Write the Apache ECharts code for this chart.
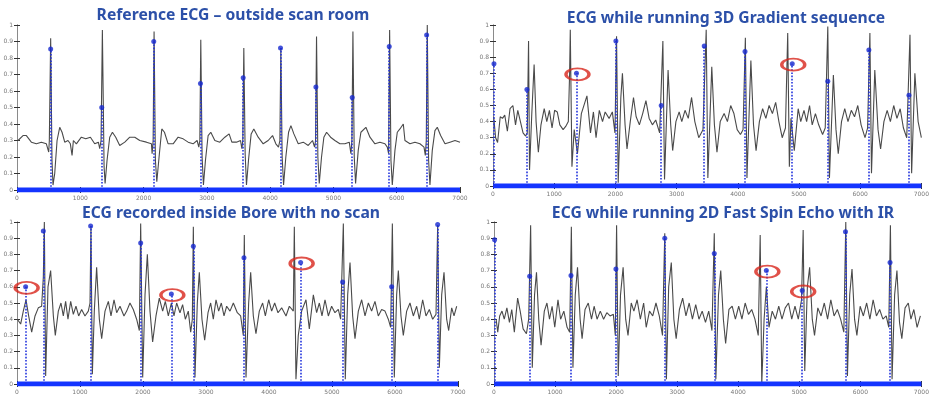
<!DOCTYPE html>
<html><head><meta charset="utf-8">
<script src="https://cdn.jsdelivr.net/npm/echarts@6/dist/echarts.min.js"></script>
<style>html,body{margin:0;padding:0;background:#fff}#c{width:932px;height:395px}</style>
</head><body><div id="c"></div>
<script>
// ---------- data ----------
const titles = [
  'Reference ECG \u2013 outside scan room',
  'ECG while running 3D Gradient sequence',
  'ECG recorded inside Bore with no scan',
  'ECG while running 2D Fast Spin Echo with IR'
];
const xMin = 0, xMax = 7000, xStep = 1000;
const yMin = 0, yMax = 1, yStep = 0.1;

// Panel 1: reference ECG
const ecg1 = [[16,0.30],[95,0.33],[148,0.33],[227,0.29],[306,0.28],[385,0.29],[464,0.28],[501,0.23],[511,0.30],[532,0.92],[553,0.18],[569,0.03],[596,0.10],[633,0.30],[675,0.38],[712,0.35],[754,0.29],[806,0.30],[843,0.28],[870,0.21],[891,0.30],[938,0.28],[1017,0.32],[1086,0.31],[1160,0.32],[1228,0.28],[1286,0.29],[1307,0.25],[1328,0.30],[1349,0.97],[1376,0.14],[1392,0.04],[1423,0.18],[1465,0.32],[1508,0.35],[1560,0.32],[1623,0.27],[1703,0.29],[1782,0.32],[1861,0.32],[1940,0.30],[2045,0.29],[2124,0.28],[2135,0.22],[2151,0.30],[2166,0.96],[2187,0.18],[2209,0.05],[2245,0.20],[2288,0.37],[2330,0.35],[2388,0.28],[2467,0.28],[2546,0.32],[2625,0.31],[2704,0.29],[2783,0.28],[2846,0.30],[2873,0.26],[2889,0.30],[2904,0.91],[2925,0.20],[2946,0.03],[2978,0.18],[3020,0.33],[3062,0.35],[3126,0.30],[3205,0.29],[3284,0.32],[3352,0.34],[3395,0.29],[3468,0.29],[3532,0.30],[3553,0.25],[3568,0.30],[3584,0.86],[3605,0.22],[3626,0.03],[3658,0.18],[3700,0.34],[3742,0.37],[3811,0.32],[3890,0.28],[3969,0.30],[4038,0.33],[4090,0.28],[4132,0.26],[4154,0.30],[4169,0.86],[4190,0.20],[4212,0.03],[4248,0.20],[4291,0.35],[4328,0.39],[4375,0.34],[4444,0.28],[4523,0.29],[4602,0.27],[4670,0.30],[4702,0.26],[4718,0.30],[4733,0.93],[4754,0.20],[4776,0.04],[4812,0.20],[4849,0.32],[4892,0.35],[4955,0.32],[5023,0.30],[5102,0.28],[5181,0.28],[5250,0.29],[5276,0.22],[5292,0.30],[5308,0.96],[5329,0.20],[5350,0.04],[5392,0.24],[5434,0.35],[5513,0.38],[5577,0.32],[5656,0.28],[5735,0.29],[5814,0.28],[5851,0.26],[5872,0.22],[5888,0.97],[5909,0.18],[5930,0.03],[5972,0.24],[6009,0.35],[6051,0.37],[6104,0.40],[6130,0.30],[6209,0.28],[6288,0.29],[6367,0.28],[6431,0.26],[6452,0.21],[6467,0.30],[6483,1.00],[6504,0.18],[6525,0.03],[6562,0.24],[6604,0.36],[6641,0.38],[6694,0.33],[6763,0.28],[6842,0.29],[6921,0.30],[7000,0.29]];
const stemX1 = [532,1339,2161,2899,3574,4164,4723,5297,5882,6473];
const stemV1 = [0.855,0.50,0.90,0.645,0.68,0.86,0.625,0.56,0.87,0.94];
const marked1 = [];

// Panel 2: 3D gradient sequence
const ecg2 = [[11,0.43],[43,0.30],[75,0.27],[118,0.43],[155,0.42],[192,0.44],[235,0.34],[278,0.48],[325,0.50],[368,0.38],[405,0.47],[448,0.40],[491,0.33],[533,0.31],[560,0.33],[581,0.90],[597,0.10],[634,0.45],[672,0.755],[704,0.40],[741,0.21],[784,0.38],[837,0.48],[879,0.40],[922,0.47],[965,0.36],[1007,0.47],[1050,0.46],[1092,0.38],[1146,0.35],[1188,0.37],[1231,0.40],[1252,0.70],[1263,0.97],[1290,0.12],[1327,0.35],[1380,0.20],[1444,0.45],[1535,0.56],[1593,0.33],[1641,0.46],[1684,0.30],[1737,0.47],[1790,0.40],[1833,0.46],[1897,0.42],[1950,0.46],[1993,0.33],[2019,0.93],[2046,0.02],[2089,0.55],[2115,0.70],[2158,0.38],[2190,0.23],[2243,0.40],[2296,0.55],[2339,0.43],[2392,0.38],[2446,0.45],[2499,0.53],[2552,0.42],[2605,0.38],[2659,0.41],[2723,0.33],[2776,0.90],[2803,0.04],[2861,0.72],[2904,0.38],[2936,0.22],[2989,0.40],[3042,0.46],[3085,0.40],[3138,0.47],[3191,0.42],[3245,0.55],[3298,0.40],[3362,0.30],[3431,0.35],[3484,0.97],[3511,0.05],[3575,0.74],[3618,0.38],[3660,0.21],[3713,0.40],[3777,0.45],[3831,0.40],[3884,0.50],[3937,0.45],[3990,0.35],[4044,0.32],[4086,0.35],[4124,0.92],[4150,0.05],[4214,0.78],[4257,0.38],[4299,0.22],[4353,0.40],[4406,0.48],[4459,0.42],[4512,0.50],[4566,0.45],[4619,0.52],[4672,0.40],[4726,0.30],[4779,0.36],[4816,0.95],[4843,0.12],[4869,0.42],[4923,0.22],[4987,0.48],[5029,0.40],[5082,0.47],[5125,0.40],[5173,0.50],[5216,0.38],[5269,0.45],[5322,0.38],[5386,0.32],[5429,0.36],[5471,0.99],[5498,0.05],[5562,0.69],[5605,0.35],[5642,0.20],[5695,0.40],[5748,0.48],[5801,0.40],[5855,0.47],[5908,0.43],[5961,0.50],[6015,0.38],[6079,0.30],[6121,0.36],[6159,0.95],[6185,0.08],[6239,0.72],[6292,0.35],[6334,0.23],[6388,0.40],[6441,0.47],[6494,0.40],[6548,0.50],[6601,0.42],[6654,0.48],[6707,0.36],[6761,0.30],[6814,0.94],[6841,0.08],[6894,0.70],[6947,0.40],[7000,0.30]];
const stemX2 = [16,554,1364,2008,2749,3452,4118,4890,5471,6142,6797];
const stemV2 = [0.76,0.60,0.70,0.90,0.50,0.87,0.835,0.76,0.65,0.845,0.563];
const marked2 = [2,7];

// Panel 3: inside bore, no scan
const ecg3 = [[5,0.40],[58,0.37],[100,0.45],[143,0.52],[185,0.42],[233,0.32],[286,0.42],[338,0.47],[391,0.48],[418,0.66],[434,1.00],[455,0.05],[492,0.60],[534,0.70],[577,0.42],[608,0.30],[656,0.45],[698,0.50],[735,0.42],[772,0.51],[809,0.40],[852,0.51],[894,0.43],[936,0.48],[979,0.42],[1026,0.46],[1079,0.42],[1132,0.45],[1159,0.50],[1174,0.97],[1196,0.06],[1227,0.45],[1264,0.72],[1307,0.40],[1344,0.28],[1397,0.45],[1450,0.51],[1492,0.42],[1540,0.52],[1582,0.44],[1635,0.48],[1698,0.42],[1741,0.45],[1793,0.50],[1846,0.46],[1899,0.40],[1942,0.33],[1963,0.99],[1995,0.04],[2032,0.55],[2069,0.80],[2111,0.45],[2153,0.26],[2206,0.42],[2259,0.53],[2312,0.45],[2354,0.51],[2402,0.42],[2450,0.50],[2492,0.42],[2534,0.50],[2587,0.44],[2629,0.49],[2672,0.40],[2719,0.45],[2757,0.32],[2783,0.40],[2799,0.97],[2825,0.04],[2862,0.50],[2894,0.69],[2936,0.40],[2979,0.27],[3032,0.44],[3074,0.50],[3116,0.40],[3159,0.52],[3201,0.45],[3243,0.50],[3286,0.42],[3328,0.48],[3381,0.45],[3434,0.50],[3497,0.44],[3550,0.42],[3592,0.30],[3608,0.92],[3635,0.04],[3677,0.50],[3709,0.69],[3751,0.42],[3793,0.31],[3846,0.45],[3899,0.50],[3942,0.42],[3995,0.52],[4042,0.45],[4090,0.50],[4143,0.44],[4201,0.47],[4270,0.42],[4323,0.48],[4386,0.45],[4402,0.97],[4428,0.03],[4465,0.30],[4518,0.45],[4587,0.52],[4640,0.34],[4704,0.55],[4756,0.44],[4799,0.50],[4841,0.42],[4889,0.52],[4942,0.42],[4994,0.48],[5047,0.44],[5100,0.46],[5137,0.40],[5180,0.99],[5211,0.03],[5249,0.55],[5286,0.75],[5328,0.42],[5365,0.28],[5418,0.45],[5471,0.52],[5524,0.42],[5577,0.50],[5629,0.45],[5682,0.51],[5735,0.42],[5788,0.46],[5841,0.45],[5894,0.40],[5931,0.35],[5958,0.99],[5989,0.04],[6026,0.55],[6053,0.70],[6095,0.42],[6132,0.30],[6185,0.45],[6238,0.50],[6291,0.42],[6344,0.48],[6386,0.40],[6439,0.52],[6492,0.42],[6545,0.46],[6598,0.40],[6651,0.43],[6677,0.98],[6704,0.10],[6741,0.55],[6778,0.69],[6820,0.40],[6852,0.33],[6900,0.47],[6937,0.42],[6979,0.48]];
const stemX3 = [137,418,1169,1963,2450,2799,3603,4502,5169,5947,6677];
const stemV3 = [0.60,0.945,0.975,0.87,0.555,0.85,0.78,0.75,0.63,0.60,0.985];
const marked3 = [0,4,7];

// Panel 4: 2D fast spin echo with IR
const ecg4 = [[35,0.40],[61,0.32],[93,0.42],[131,0.45],[168,0.40],[211,0.47],[253,0.38],[291,0.46],[333,0.32],[387,0.53],[429,0.45],[477,0.34],[531,0.31],[568,0.40],[600,0.98],[627,0.10],[664,0.55],[696,0.69],[733,0.40],[771,0.24],[824,0.45],[867,0.50],[909,0.40],[952,0.48],[995,0.35],[1048,0.52],[1091,0.40],[1144,0.45],[1197,0.35],[1240,0.32],[1267,0.97],[1293,0.10],[1331,0.55],[1368,0.72],[1411,0.40],[1443,0.28],[1491,0.46],[1544,0.50],[1597,0.40],[1640,0.48],[1688,0.40],[1741,0.45],[1795,0.40],[1848,0.44],[1901,0.42],[1955,0.43],[1987,0.30],[2008,0.98],[2035,0.05],[2072,0.55],[2115,0.72],[2157,0.40],[2195,0.30],[2248,0.50],[2291,0.45],[2344,0.52],[2397,0.40],[2451,0.50],[2493,0.35],[2547,0.45],[2600,0.42],[2653,0.50],[2707,0.42],[2760,0.30],[2797,0.93],[2824,0.03],[2861,0.60],[2904,0.75],[2946,0.40],[2984,0.28],[3037,0.46],[3090,0.53],[3144,0.42],[3197,0.50],[3250,0.40],[3304,0.49],[3357,0.40],[3410,0.45],[3464,0.38],[3517,0.45],[3570,0.33],[3608,0.93],[3634,0.03],[3677,0.55],[3714,0.70],[3757,0.40],[3794,0.25],[3848,0.46],[3901,0.48],[3954,0.40],[4008,0.48],[4061,0.40],[4114,0.50],[4168,0.43],[4221,0.46],[4274,0.40],[4328,0.30],[4360,0.92],[4386,0.00],[4424,0.40],[4461,0.60],[4504,0.35],[4557,0.45],[4610,0.40],[4664,0.48],[4717,0.40],[4770,0.47],[4824,0.50],[4877,0.40],[4930,0.48],[4984,0.40],[5037,0.52],[5064,0.95],[5090,0.08],[5133,0.60],[5170,0.72],[5213,0.40],[5250,0.30],[5304,0.47],[5357,0.42],[5410,0.50],[5464,0.40],[5517,0.52],[5570,0.42],[5624,0.46],[5677,0.40],[5730,0.32],[5762,1.00],[5789,0.05],[5826,0.55],[5864,0.71],[5906,0.40],[5944,0.30],[5997,0.48],[6050,0.42],[6104,0.50],[6157,0.40],[6210,0.52],[6264,0.42],[6317,0.46],[6370,0.40],[6424,0.42],[6466,0.35],[6493,0.98],[6520,0.03],[6562,0.55],[6600,0.70],[6642,0.38],[6680,0.28],[6733,0.47],[6786,0.50],[6829,0.40],[6877,0.46],[6930,0.35],[6984,0.42]];
const stemX4 = [10,584,1261,1997,2797,3608,4461,5048,5757,6487];
const stemV4 = [0.89,0.665,0.67,0.71,0.90,0.805,0.70,0.577,0.94,0.75];
const marked4 = [6,7];

// ---------- layout / style ----------
const panels = [
  {ecg:ecg1, sx:stemX1, sv:stemV1, mk:marked1},
  {ecg:ecg2, sx:stemX2, sv:stemV2, mk:marked2},
  {ecg:ecg3, sx:stemX3, sv:stemV3, mk:marked3},
  {ecg:ecg4, sx:stemX4, sv:stemV4, mk:marked4}
];
const grids = [
  {left:17, top:25, width:443, height:165},
  {left:493, top:25, width:438, height:161},
  {left:17, top:222, width:441, height:167},
  {left:494, top:222, width:437, height:167}
];
const titlePos = [[233,16],[726,19],[231,214],[723,214]];

const axisCol = '#8a8a8a';
const xAxes = [], yAxes = [], series = [];
grids.forEach((g, i) => {
  const base = {type:'value', min:xMin, max:xMax, interval:xStep, gridIndex:i,
    axisLine:{show:true, lineStyle:{color:axisCol, width:1}},
    axisTick:{show:true, inside:true, length:3, lineStyle:{color:'#333'}},
    splitLine:{show:false}};
  xAxes.push(Object.assign({}, base, {position:'bottom',
    axisLabel:{show:true, fontSize:6, color:'#777', margin:5, fontFamily:'DejaVu Sans',
      formatter: v => String(v)}}));
  xAxes.push(Object.assign({}, base, {position:'top', axisLabel:{show:false}}));
  const ybase = {type:'value', min:yMin, max:yMax, interval:yStep, gridIndex:i,
    axisLine:{show:true, lineStyle:{color:axisCol, width:1}},
    axisTick:{show:true, inside:true, length:3, lineStyle:{color:'#333'}},
    splitLine:{show:false}};
  yAxes.push(Object.assign({}, ybase, {position:'left',
    axisLabel:{show:true, fontSize:6, color:'#777', margin:4, fontFamily:'DejaVu Sans'}}));
  yAxes.push(Object.assign({}, ybase, {position:'right', axisLabel:{show:false}}));

  const p = panels[i];
  const xi = 2*i, yi = 2*i;
  series.push({type:'line', xAxisIndex:xi, yAxisIndex:yi, data:p.ecg, symbol:'none',
    lineStyle:{color:'#4a4a4a', width:1.1}, z:2, silent:true, animation:false});
  series.push({type:'line', xAxisIndex:xi, yAxisIndex:yi, data:[[xMin,0],[xMax,0]], symbol:'none',
    lineStyle:{color:'#1434ff', width:5}, z:3, silent:true, animation:false});
  series.push({type:'lines', coordinateSystem:'cartesian2d', xAxisIndex:xi, yAxisIndex:yi,
    data:p.sx.map((x,k)=>({coords:[[x,0],[x,p.sv[k]]]})),
    lineStyle:{color:'#2233dd', width:1.6, type:'dotted', opacity:1}, z:4, silent:true, animation:false});
  series.push({type:'scatter', xAxisIndex:xi, yAxisIndex:yi,
    data:p.sx.map((x,k)=>[x,p.sv[k]]), symbol:'circle', symbolSize:5,
    itemStyle:{color:'#1528d0'}, z:5, silent:true, animation:false});
  if (p.mk.length) series.push({type:'scatter', xAxisIndex:xi, yAxisIndex:yi,
    data:p.mk.map(k=>[p.sx[k],p.sv[k]]), symbol:'circle', symbolSize:[23,12], symbolOffset:[1,1],
    itemStyle:{color:'rgba(0,0,0,0)', borderColor:'#d8261c', borderWidth:2.5}, z:6, silent:true, animation:false});
});

const graphics = titles.map((t,i)=>({type:'text', x:titlePos[i][0], y:titlePos[i][1], z:10,
  style:{text:t, fill:'#2c50a8', font:'bold 15.7px "Noto Sans"', align:'center', verticalAlign:'middle',
         textAlign:'center', textVerticalAlign:'middle'}}));

const chart = echarts.init(document.getElementById('c'), null, {renderer:'canvas'});
chart.setOption({
  animation:false,
  backgroundColor:'#ffffff',
  grid: grids.map(g=>Object.assign({containLabel:false}, g)),
  xAxis: xAxes, yAxis: yAxes, series: series, graphic: graphics
});
</script></body></html>
